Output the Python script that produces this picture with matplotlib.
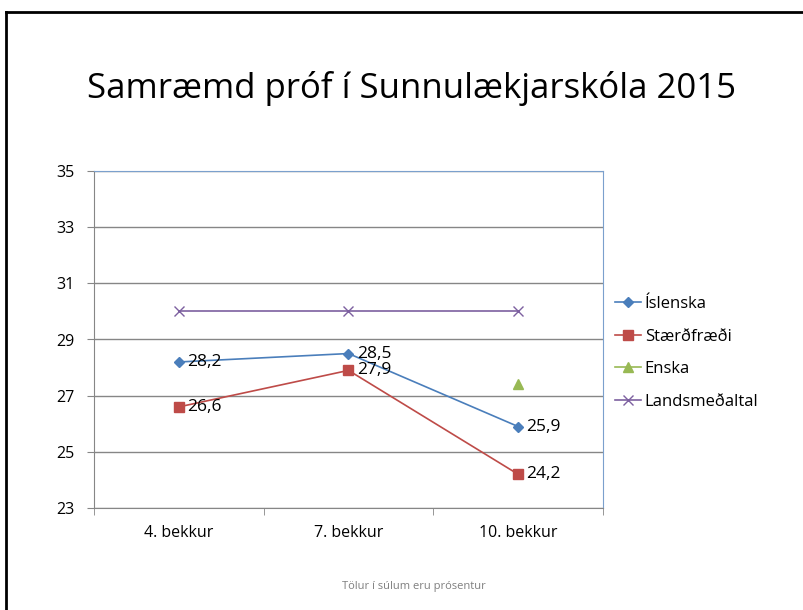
import numpy as np
import matplotlib.pyplot as plt
from matplotlib.lines import Line2D

plt.rcParams['font.family'] = ['Open Sans', 'DejaVu Sans']

# data
categories = ['4. bekkur', '7. bekkur', '10. bekkur']
islenska = [28.2, 28.5, 25.9]
staerdfraedi = [26.6, 27.9, 24.2]
enska = [np.nan, np.nan, 27.4]
landsmedaltal = [30, 30, 30]
series_names = ['Íslenska', 'Stærðfræði', 'Enska', 'Landsmeðaltal']

W, H = 804, 610
fig = plt.figure(figsize=(W / 100, H / 100), dpi=100)

# outer frame (left and top only)
fig.add_artist(Line2D([6.5 / W, 6.5 / W], [0, 1 - 11.5 / H], color='black', lw=2, transform=fig.transFigure))
fig.add_artist(Line2D([6.5 / W, 1], [1 - 11.5 / H, 1 - 11.5 / H], color='black', lw=2, transform=fig.transFigure))

ax = fig.add_axes([94 / W, 1 - 508 / H, (603 - 94) / W, (508 - 171) / H])

x = np.arange(len(categories))
ax.plot(x, islenska, color='#4A7EBB', marker='D', markersize=5.5, lw=1.2, label=series_names[0])
ax.plot(x, staerdfraedi, color='#BE4B48', marker='s', markersize=6.5, lw=1.2, label=series_names[1])
ax.plot(x, enska, color='#98B954', marker='^', markersize=6.5, lw=1.2, label=series_names[2])
ax.plot(x, landsmedaltal, color='#7D60A0', marker='x', markersize=7, lw=1.2, label=series_names[3])

for xi, v in zip(x, islenska):
    ax.annotate(f'{v:.1f}'.replace('.', ','), (xi, v), xytext=(6, 0), textcoords='offset points',
                va='center', ha='left', fontsize=12.5)
for xi, v in zip(x, staerdfraedi):
    ax.annotate(f'{v:.1f}'.replace('.', ','), (xi, v), xytext=(6, 0), textcoords='offset points',
                va='center', ha='left', fontsize=12.5)

ax.set_xlim(-0.5, 2.5)
ax.set_ylim(23, 35)
ax.set_yticks(np.arange(23, 36, 2))
ax.set_xticks(x)
ax.set_xticklabels(categories, fontsize=11.5)
ax.set_xticks([-0.5, 0.5, 1.5, 2.5], minor=True)
ax.tick_params(axis='x', which='major', length=0, pad=12)
ax.tick_params(axis='x', which='minor', length=5, color='#868686')
ax.tick_params(axis='y', length=5, color='#868686', labelsize=11.5, pad=9)
ax.grid(axis='y', color='#868686', lw=1)
ax.set_axisbelow(True)
ax.spines['left'].set_color('#868686')
ax.spines['bottom'].set_color('#868686')
ax.spines['top'].set_color('#7BA0CD')
ax.spines['right'].set_color('#7BA0CD')

fig.text(412 / W, 1 - 88 / H, 'Samræmd próf í Sunnulækjarskóla 2015', ha='center', va='center', fontsize=25)
fig.text(414 / W, 1 - 587 / H, 'Tölur í súlum eru prósentur', ha='center', va='center', fontsize=8, color='#7F7F7F')

ax.legend(loc='center left', bbox_to_anchor=(1.0, 0.46), frameon=False, fontsize=12,
          handlelength=1.6, handletextpad=0.2, labelspacing=1.0, borderaxespad=0.3)

fig.savefig('out.png', dpi=100)
